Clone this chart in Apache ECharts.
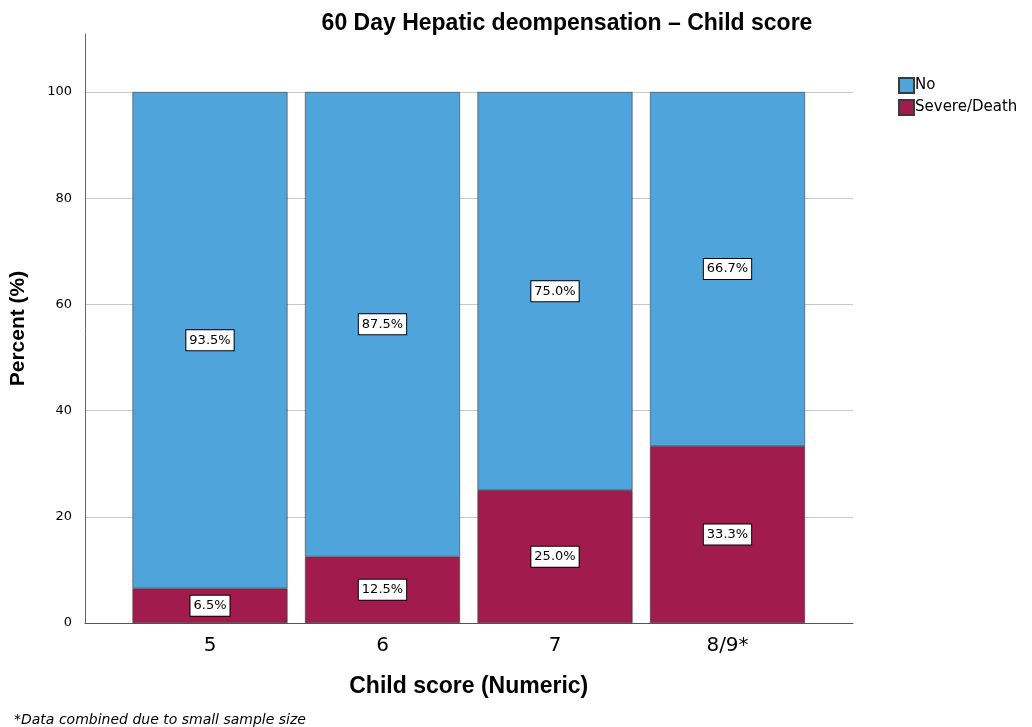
<!DOCTYPE html>
<html>
<head>
<meta charset="utf-8">
<script src="https://cdn.jsdelivr.net/npm/echarts@6/dist/echarts.min.js"></script>
<style>html,body{margin:0;padding:0;background:#fff;}#c{width:1032px;height:727px;}</style>
</head>
<body>
<div id="c"></div>
<script>
const categories = ['5', '6', '7', '8/9*'];
const noValues = [93.5, 87.5, 75.0, 66.7];
const severeValues = [6.5, 12.5, 25.0, 33.3];

const chart = echarts.init(document.getElementById('c'));
const labelStyle = {
  show: true, position: 'inside',
  formatter: p => p.value.toFixed(1) + '%',
  color: '#000', fontFamily: 'DejaVu Sans', fontSize: 13,
  backgroundColor: '#fff', borderColor: '#000', borderWidth: 1, padding: [4, 3, 3, 3]
};
chart.setOption({
  animation: false,
  title: [
    { text: '60 Day Hepatic deompensation – Child score', left: 562, top: 7, textAlign: 'center',
      textStyle: { fontFamily: 'Liberation Sans', fontWeight: 'bold', fontSize: 23, color: '#000' } },
    { text: '*Data combined due to small sample size', left: 9, top: 708,
      textStyle: { fontFamily: 'DejaVu Sans', fontStyle: 'italic', fontWeight: 'normal', fontSize: 14, color: '#000' } }
  ],
  legend: {
    data: ['No', 'Severe/Death'], orient: 'vertical', left: 893, top: 72,
    itemWidth: 15, itemHeight: 15, itemGap: 5, icon: 'rect',
    textStyle: { fontFamily: 'DejaVu Sans', fontSize: 15, color: '#000', padding: [0, 0, 0, -4] }
  },
  grid: [
    { left: 85, right: 179, top: 92, bottom: 104, outerBoundsMode: 'none', containLabel: false },
    { left: 123.75, width: 690, top: 92, bottom: 104, outerBoundsMode: 'none', containLabel: false },
    { left: 85, right: 179, top: 34, bottom: 104, outerBoundsMode: 'none', containLabel: false }
  ],
  xAxis: [
    { gridIndex: 0, type: 'value', min: 0, max: 1, axisLine: { show: true, lineStyle: { color: '#555', width: 1 } },
      axisTick: { show: false }, axisLabel: { show: false }, splitLine: { show: false } },
    { gridIndex: 1, type: 'category', data: categories, axisLine: { show: false }, axisTick: { show: false },
      axisLabel: { fontFamily: 'DejaVu Sans', fontSize: 20, color: '#000', margin: 13 },
      name: 'Child score (Numeric)', nameLocation: 'middle', nameGap: 52,
      nameTextStyle: { fontFamily: 'Liberation Sans', fontWeight: 'bold', fontSize: 23, color: '#000' } },
    { gridIndex: 2, type: 'value', min: 0, max: 1, show: false }
  ],
  yAxis: [
    { gridIndex: 0, type: 'value', min: 0, max: 100, interval: 20,
      axisLine: { show: false }, axisTick: { show: false },
      splitLine: { show: true, lineStyle: { color: '#c8c8c8', width: 1 } },
      axisLabel: { fontFamily: 'DejaVu Sans', fontSize: 13, color: '#000', margin: 13 } },
    { gridIndex: 1, type: 'value', min: 0, max: 100, show: false },
    { gridIndex: 2, type: 'value', min: 0, max: 1,
      axisLine: { show: true, lineStyle: { color: '#666', width: 1 } }, axisTick: { show: false },
      axisLabel: { show: false }, splitLine: { show: false },
      name: 'Percent (%)', nameLocation: 'middle', nameGap: 56, nameRotate: 90,
      nameTextStyle: { fontFamily: 'Liberation Sans', fontWeight: 'bold', fontSize: 21, color: '#000' } }
  ],
  series: [
    { name: 'Severe/Death', type: 'bar', stack: 's', xAxisIndex: 1, yAxisIndex: 1, barWidth: 155, z: 3,
      data: severeValues, itemStyle: { color: '#A11C4C', borderColor: '#3a3a3a', borderWidth: 0.6 }, label: labelStyle },
    { name: 'No', type: 'bar', stack: 's', xAxisIndex: 1, yAxisIndex: 1, barWidth: 155, z: 3,
      data: noValues, itemStyle: { color: '#4FA5DB', borderColor: '#3a3a3a', borderWidth: 0.6 }, label: labelStyle }
  ]
});
</script>
</body>
</html>
